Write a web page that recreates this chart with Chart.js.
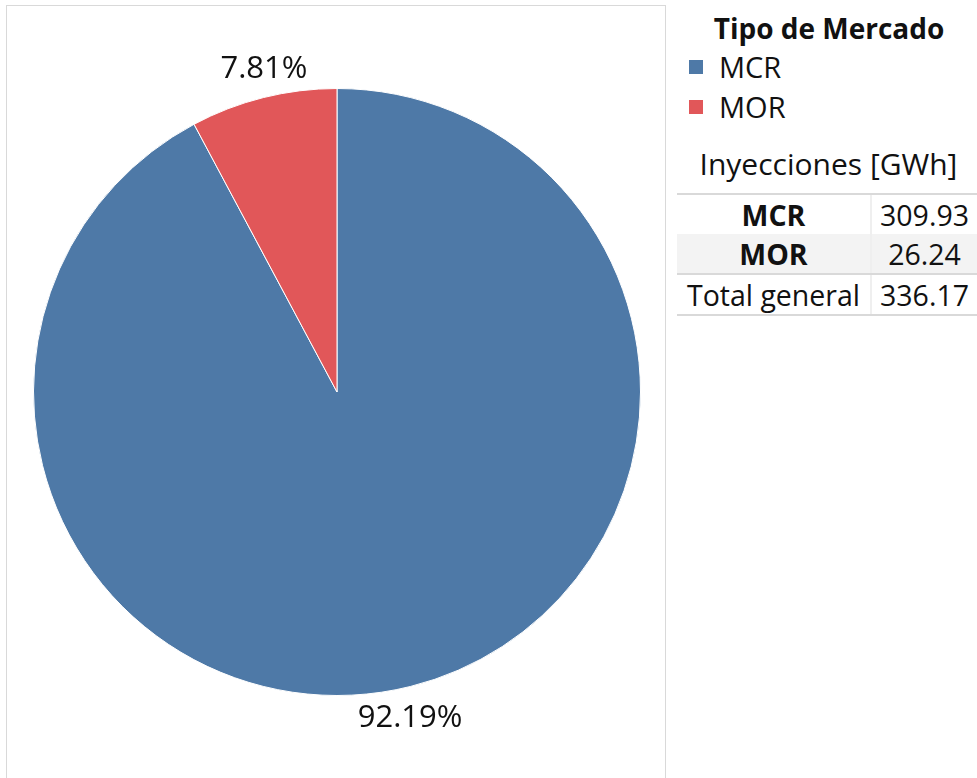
<!DOCTYPE html>
<html>
<head>
<meta charset="utf-8">
<script src="https://cdn.jsdelivr.net/npm/chart.js@4.4.1/dist/chart.umd.min.js"></script>
<style>
  body { margin: 0; background: #fff; overflow: hidden; font-family: "Open Sans", sans-serif; color: #111; }
  #frame { position: absolute; left: 6px; top: 5px; width: 660px; height: 780px; border: 1px solid #d9d9d9; box-sizing: border-box; }
  #pieBox { position: absolute; left: 0; top: 0; width: 670px; height: 778px; }
  #legendTitle { position: absolute; left: 680px; width: 298px; top: 10px; text-align: center; font-weight: bold; font-size: 28px; line-height: 36px; white-space: nowrap; }
  .legItem { position: absolute; left: 689px; font-size: 29px; line-height: 36px; }
  .legItem span.sw { position: absolute; left: 0; top: 11px; width: 14px; height: 14px; }
  .legItem span.tx { position: absolute; left: 30px; top: 0; white-space: nowrap; }
  #tblTitle { position: absolute; left: 680px; width: 297px; top: 146px; text-align: center; font-size: 30px; line-height: 36px; white-space: nowrap; }
  #tbl { position: absolute; left: 677px; top: 193px; width: 300px; border-collapse: collapse; font-size: 28.5px; }
  #tbl td { height: 39px; padding: 0; text-align: center; border-bottom: 2px solid #d9d9d9; line-height: 30px; white-space: nowrap; }
  #tbl tr:first-child td { border-top: 2px solid #d9d9d9; }
  #tbl td.v { border-left: 2px solid #efefef; width: 105px; }
  #tbl tr.alt td { background: #f3f3f3; }
  #tbl tr.nob td { border-bottom: none; }
</style>
</head>
<body>
<div id="frame"></div>
<div id="pieBox"><canvas id="myChart"></canvas></div>
<div id="legendTitle">Tipo de Mercado</div>
<div id="legend"></div>
<div id="tblTitle">Inyecciones [GWh]</div>
<table id="tbl"></table>
<script>
// Datos
const categorias = ['MCR', 'MOR'];
const inyecciones = [309.93, 26.24];
const colores = ['#4e79a7', '#e15759'];
const totalLabel = 'Total general';

const total = inyecciones.reduce((a, b) => a + b, 0);
const porcentajes = inyecciones.map(v => (v / total * 100).toFixed(2) + '%');

// Leyenda
let legend = document.getElementById('legend');
categorias.forEach(function (cat, i) {
    let item = document.createElement('div');
    item.className = 'legItem';
    item.style.top = (49 + i * 40) + 'px';
    item.innerHTML = '<span class="sw" style="background:' + colores[i] + '"></span><span class="tx">' + cat + '</span>';
    legend.appendChild(item);
});

// Tabla
let tbl = document.getElementById('tbl');
categorias.forEach(function (cat, i) {
    let tr = document.createElement('tr');
    if (i % 2 === 1) tr.className = 'alt';
    if (i === 0) tr.className = 'nob';
    tr.innerHTML = '<td style="font-weight:bold">' + cat + '</td><td class="v">' + inyecciones[i].toFixed(2) + '</td>';
    tbl.appendChild(tr);
});
let trTot = document.createElement('tr');
trTot.innerHTML = '<td>' + totalLabel + '</td><td class="v">' + total.toFixed(2) + '</td>';
tbl.appendChild(trTot);

// Etiquetas de porcentaje fuera del pie
const outsideLabels = {
    id: 'outsideLabels',
    afterDatasetsDraw(chart) {
        const ctx = chart.ctx;
        const meta = chart.getDatasetMeta(0);
        ctx.save();
        ctx.font = '31px "Open Sans"';
        ctx.fillStyle = '#111';
        ctx.textAlign = 'center';
        ctx.textBaseline = 'middle';
        meta.data.forEach(function (arc, i) {
            const p = arc.getProps(['x', 'y', 'startAngle', 'endAngle', 'outerRadius'], true);
            const a = (p.startAngle + p.endAngle) / 2;
            const r = p.outerRadius + 31;
            ctx.fillText(porcentajes[i], p.x + Math.cos(a) * r * 0.9, p.y + Math.sin(a) * r + 2);
        });
        ctx.restore();
    }
};

const ctx = document.getElementById('myChart').getContext('2d');
const myChart = new Chart(ctx, {
    type: 'pie',
    data: {
        labels: categorias,
        datasets: [{
            data: inyecciones,
            backgroundColor: colores,
            borderColor: '#ffffff',
            borderWidth: 1
        }]
    },
    options: {
        responsive: true,
        maintainAspectRatio: false,
        animation: false,
        layout: { padding: { left: 33, right: 29, top: 88, bottom: 82 } },
        plugins: {
            legend: { display: false },
            tooltip: { enabled: false }
        }
    },
    plugins: [outsideLabels]
});
</script>
</body>
</html>
